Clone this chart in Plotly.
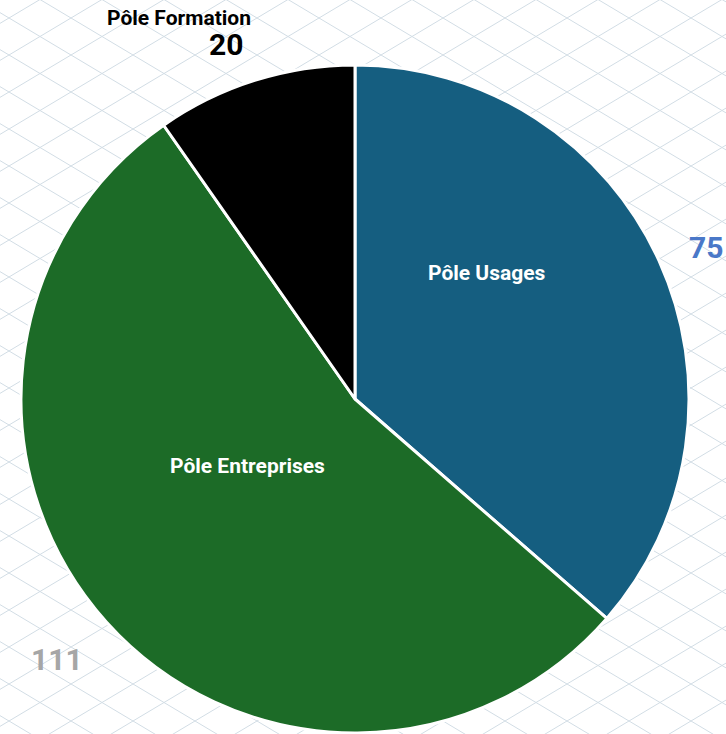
import plotly.graph_objects as go

labels = ["Pôle Usages", "Pôle Entreprises", "Pôle Formation"]
values = [75, 111, 20]
colors = ["#155e80", "#1c6b27", "#000000"]
value_colors = ["#4a78c8", "#a6a6a6", "#000000"]

W, H = 726, 734

fig = go.Figure()
fig.add_trace(go.Pie(
    labels=labels, values=values, sort=False, direction="clockwise", rotation=0,
    marker=dict(colors=colors, line=dict(color="white", width=3)),
    textinfo="none", hoverinfo="label+value", showlegend=False,
    domain=dict(x=[21 / W, 689 / W], y=[1 / H, 669 / H]),
))

# background diamond lattice
shapes = []
dw, dh = 62.0, 37.0
s = dh / dw
x0c, y0c = 443.0, 18.0
for fam in (1, -1):
    for k in range(-40, 41):
        c = y0c + k * dh
        ya = fam * s * (0 - x0c) + c
        yb = fam * s * (W - x0c) + c
        if max(ya, yb) < 0 or min(ya, yb) > H:
            continue
        shapes.append(dict(type="line", xref="paper", yref="paper",
                           x0=0, x1=1, y0=1 - ya / H, y1=1 - yb / H,
                           line=dict(color="#d2dde5", width=1), layer="below"))

label_pos = [(487, 273, "white"), (247, 466, "white"), (179, 18, "black")]
value_pos = [(706, 247), (57, 659), (226, 44)]
ann = []
for lab, (lx, ly, lc) in zip(labels, label_pos):
    ann.append(dict(text="<b>%s</b>" % lab, x=lx / W, y=1 - ly / H, xref="paper", yref="paper",
                    showarrow=False, xanchor="center", yanchor="middle",
                    font=dict(family="Roboto", size=21, color=lc)))
for v, vc, (vx, vy) in zip(values, value_colors, value_pos):
    ann.append(dict(text="<b>%d</b>" % v, x=vx / W, y=1 - vy / H, xref="paper", yref="paper",
                    showarrow=False, xanchor="center", yanchor="middle",
                    font=dict(family="Roboto", size=30, color=vc)))

fig.update_layout(width=W, height=H, margin=dict(l=0, r=0, t=0, b=0),
                  paper_bgcolor="white", plot_bgcolor="white",
                  shapes=shapes, annotations=ann)
fig.write_html("out.html", config={"displayModeBar": False},
               post_script="document.body.style.margin='0';document.body.style.overflow='hidden';")
